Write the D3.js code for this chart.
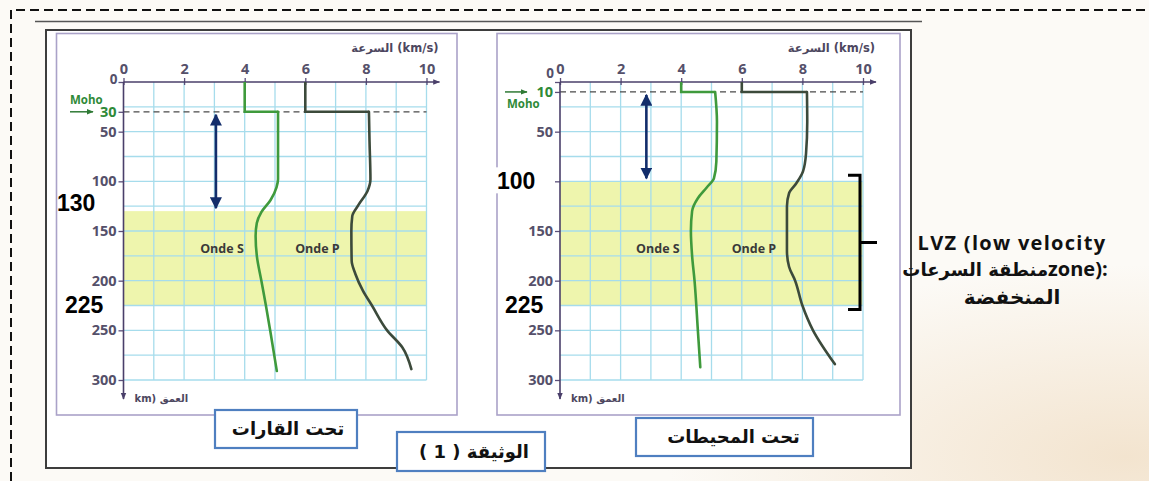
<!DOCTYPE html>
<html>
<head>
<meta charset="utf-8">
<script src="https://cdn.jsdelivr.net/npm/d3@7"></script>
<style>
  html, body { margin: 0; padding: 0; background: #fcfaf6; }
  svg { display: block; }
  .tick text { font-family: "Open Sans", sans-serif; font-weight: 700; font-size: 14.5px; fill: #55506a; }
  .tick line { stroke: #5b4f7a; stroke-width: 1.3; }
</style>
</head>
<body>
<svg id="chart" width="1149" height="481"></svg>
<script>
// Velocity axis (km/s) and depth axis (km)
const velocityTicks = [0, 2, 4, 6, 8, 10];
const depthTicksContinent = [0, 30, 50, 100, 150, 200, 250, 300];
const depthTicksOcean = [0, 10, 50, 100, 150, 200, 250, 300];

// Moho depth (km) under each domain
const mohoContinent = 30;
const mohoOcean = 10;

// Low-velocity zone limits (km)
const lvzContinent = [130, 225];
const lvzOcean = [100, 225];

// Seismic velocity profiles: [velocity km/s, depth km]
const sContinent = [[4, 0], [4, 30], [5.1, 30], [5.1, 60], [5.1, 98], [5.05, 106], [4.85, 119], [4.55, 131], [4.4, 142], [4.36, 155], [4.4, 175], [4.55, 200], [4.7, 225], [4.84, 250], [5.06, 291]];
const pContinent = [[6, 0], [6, 30], [8.1, 30], [8.12, 60], [8.15, 98], [8.05, 110], [7.75, 124], [7.55, 135], [7.52, 150], [7.53, 180], [7.65, 193], [7.9, 210], [8.2, 225], [8.7, 250], [9.2, 267], [9.5, 289]];
const sOcean = [[4, 0], [4, 10], [5.12, 10], [5.18, 40], [5.16, 80], [5.08, 97], [4.85, 106], [4.55, 117], [4.36, 130], [4.32, 150], [4.36, 175], [4.44, 200], [4.55, 250], [4.63, 287]];
const pOcean = [[6, 0], [6, 10], [8.15, 10], [8.16, 40], [8.12, 72], [8.02, 90], [7.8, 102], [7.56, 112], [7.49, 125], [7.49, 170], [7.56, 186], [7.76, 200], [8.0, 225], [8.35, 250], [9.07, 284]];

// Text
const axisVelocityTitle = "السرعة (km/s)";
const axisDepthTitle = "km) العمق";
const waveLabels = ["Onde S", "Onde P"];
const domainContinent = "تحت القارات";
const domainOcean = "تحت المحيطات";
const documentTitle = "الوثيقة ( 1 )";
const lvzLine1 = "LVZ (low velocity";
const lvzLine2Ar = "منطقة السرعات";
const lvzLine2En = "zone):";
const lvzLine3 = "المنخفضة";

const svg = d3.select("#chart");
const W = 1149, H = 481;

// ---- page background ----
const defs = svg.append("defs");
const paper = defs.append("radialGradient").attr("id", "paper")
  .attr("cx", "98%").attr("cy", "95%").attr("r", "40%");
paper.append("stop").attr("offset", "0%").attr("stop-color", "#f3e4cf");
paper.append("stop").attr("offset", "100%").attr("stop-color", "#fcfaf6");
svg.append("rect").attr("width", W).attr("height", H).attr("fill", "#fcfaf6");
svg.append("rect").attr("width", W).attr("height", H).attr("fill", "url(#paper)");

defs.append("marker").attr("id", "axArrow").attr("viewBox", "0 0 10 10")
  .attr("refX", 9).attr("refY", 5).attr("markerWidth", 7).attr("markerHeight", 7)
  .attr("markerUnits", "userSpaceOnUse").attr("orient", "auto")
  .append("path").attr("d", "M0,1 L10,5 L0,9 Z").attr("fill", "#4a3f6a");
defs.append("marker").attr("id", "greenArrow").attr("viewBox", "0 0 10 10")
  .attr("refX", 9).attr("refY", 5).attr("markerWidth", 7).attr("markerHeight", 7)
  .attr("markerUnits", "userSpaceOnUse").attr("orient", "auto")
  .append("path").attr("d", "M0,1 L10,5 L0,9 Z").attr("fill", "#2f7a35");
defs.append("marker").attr("id", "navyHead").attr("viewBox", "0 0 10 10")
  .attr("refX", 9).attr("refY", 5).attr("markerWidth", 12).attr("markerHeight", 12)
  .attr("markerUnits", "userSpaceOnUse").attr("orient", "auto-start-reverse")
  .append("path").attr("d", "M0,0 L10,5 L0,10 Z").attr("fill", "#132d6b");

// ---- outer dashed frame and document box ----
svg.append("path").attr("d", `M11,${H} L11,10 L${W},10`)
  .attr("fill", "none").attr("stroke", "#111").attr("stroke-width", 2)
  .attr("stroke-dasharray", "9,5");
svg.append("line").attr("x1", 35).attr("x2", 922).attr("y1", 21.5).attr("y2", 21.5)
  .attr("stroke", "#555").attr("stroke-width", 1.5);
svg.append("rect").attr("x", 46).attr("y", 30).attr("width", 865).attr("height", 438)
  .attr("fill", "#fff").attr("stroke", "#3d3d3d").attr("stroke-width", 2);

// ---- shared depth scale ----
const y = d3.scaleLinear().domain([0, 300]).range([82, 380]);

const curveLine = (x) => d3.line().x(d => x(d[0])).y(d => y(d[1])).curve(d3.curveMonotoneY);
const stepLine = (x) => d3.line().x(d => x(d[0])).y(d => y(d[1]));

function drawPanel(cfg) {
  const x = d3.scaleLinear().domain([0, 10]).range(cfg.xRange);
  const g = svg.append("g");

  // panel frame
  g.append("rect").attr("x", cfg.frame[0]).attr("y", cfg.frame[1])
    .attr("width", cfg.frame[2] - cfg.frame[0]).attr("height", cfg.frame[3] - cfg.frame[1])
    .attr("fill", "#fff").attr("stroke", "#aaa2c8").attr("stroke-width", 1.6);

  // low-velocity zone band
  g.append("rect").attr("x", x(0)).attr("y", y(cfg.lvz[0]))
    .attr("width", x(10) - x(0)).attr("height", y(cfg.lvz[1]) - y(cfg.lvz[0]))
    .attr("fill", "#eef5ad");

  // grid
  g.append("g").selectAll("line").data(d3.range(1, 11)).join("line")
    .attr("x1", d => x(d)).attr("x2", d => x(d)).attr("y1", y(0)).attr("y2", y(300))
    .attr("stroke", "#a6dcec").attr("stroke-width", 1.3);
  g.append("g").selectAll("line").data(d3.range(25, 301, 25)).join("line")
    .attr("x1", x(0)).attr("x2", x(10)).attr("y1", d => y(d)).attr("y2", d => y(d))
    .attr("stroke", "#a6dcec").attr("stroke-width", 1.3);

  // Moho dashed line
  g.append("line").attr("x1", x(0)).attr("x2", x(10))
    .attr("y1", y(cfg.moho)).attr("y2", y(cfg.moho))
    .attr("stroke", "#4a4a4a").attr("stroke-width", 1.3).attr("stroke-dasharray", "6,4");

  // axes
  const top = g.append("g").attr("transform", `translate(0,${y(0)})`)
    .call(d3.axisTop(x).tickValues(velocityTicks).tickSize(4).tickPadding(3));
  top.select(".domain").remove();
  top.selectAll(".tick line").attr("y2", 3).attr("y1", -4);
  top.selectAll(".tick text").attr("dy", "-0.05em");

  const left = g.append("g").attr("transform", `translate(${x(0)},0)`)
    .call(d3.axisLeft(y).tickValues(cfg.depthTicks).tickSize(5).tickPadding(2));
  left.select(".domain").remove();
  left.selectAll(".tick text").filter(d => d === cfg.moho).style("fill", "#2f8a38");
  left.selectAll(".tick text").filter(d => d === 0)
    .attr("dy", cfg.zeroDy).attr("x", -6).style("font-size", "13.5px");
  // the annotated LVZ top replaces its own tick label
  left.selectAll(".tick text").filter(d => d === cfg.lvz[0]).remove();

  g.append("line").attr("x1", x(0)).attr("x2", x(10) + 13).attr("y1", y(0)).attr("y2", y(0))
    .attr("stroke", "#4a3f6a").attr("stroke-width", 1.6).attr("marker-end", "url(#axArrow)");
  g.append("line").attr("x1", x(0)).attr("x2", x(0)).attr("y1", y(0)).attr("y2", y(300) + 19)
    .attr("stroke", "#4a3f6a").attr("stroke-width", 1.6).attr("marker-end", "url(#axArrow)");

  // axis titles
  g.append("text").attr("x", x(10) + 12).attr("y", 52).attr("text-anchor", "end")
    .attr("direction", "ltr")
    .style("font-family", "'DejaVu Sans', sans-serif").style("font-size", "11.5px")
    .style("font-weight", 700).style("fill", "#4d4760").text(axisVelocityTitle);
  g.append("text").attr("x", x(0) + 11).attr("y", y(300) + 22)
    .attr("direction", "ltr")
    .style("font-family", "'DejaVu Sans', sans-serif").style("font-size", "10px")
    .style("font-weight", 700).style("fill", "#4d4760").text(axisDepthTitle);

  // Moho label
  g.append("text").attr("x", cfg.mohoLabel[0]).attr("y", cfg.mohoLabel[1])
    .style("font-family", "'Open Sans', sans-serif").style("font-size", "11.5px")
    .style("font-weight", 700).style("fill", "#2f8a38").text("Moho");
  g.append("line").attr("x1", cfg.mohoArrow[0]).attr("x2", cfg.mohoArrow[1])
    .attr("y1", y(cfg.moho)).attr("y2", y(cfg.moho))
    .attr("stroke", "#2f7a35").attr("stroke-width", 1.5).attr("marker-end", "url(#greenArrow)");

  // velocity profiles: crust step, then mantle curve
  const drawWave = (pts, color) => {
    g.append("path").attr("d", stepLine(x)(pts.slice(0, 3)))
      .attr("fill", "none").attr("stroke", color).attr("stroke-width", 2.6);
    g.append("path").attr("d", curveLine(x)(pts.slice(2)))
      .attr("fill", "none").attr("stroke", color).attr("stroke-width", 2.6)
      .attr("stroke-linecap", "round");
  };
  drawWave(cfg.s, "#3f9a3c");
  drawWave(cfg.p, "#3c4a3b");

  // wave labels
  g.selectAll("text.wave").data(waveLabels).join("text").attr("class", "wave")
    .attr("x", (d, i) => x(cfg.waveLabelVel[i])).attr("y", y(168)).attr("dy", "0.35em")
    .attr("text-anchor", "middle")
    .style("font-family", "'Open Sans', sans-serif").style("font-size", "12.5px")
    .style("font-weight", 700).style("fill", "#3a3a3a").text(d => d);

  // double arrow from the Moho to the top of the LVZ
  g.append("line").attr("x1", x(cfg.arrowVel)).attr("x2", x(cfg.arrowVel))
    .attr("y1", y(cfg.moho) + 3).attr("y2", y(cfg.lvz[0]) - 3)
    .attr("stroke", "#132d6b").attr("stroke-width", 2.6)
    .attr("marker-start", "url(#navyHead)").attr("marker-end", "url(#navyHead)");

  // LVZ depth annotations
  const ann = (val, xPos, yOff, bg) => {
    if (bg) {
      g.append("rect").attr("x", xPos - 14).attr("y", y(val) + yOff - 13)
        .attr("width", 60).attr("height", 26).attr("fill", "#fff");
    }
    g.append("text").attr("x", xPos).attr("y", y(val) + yOff).attr("dy", "0.36em")
      .style("font-family", "'Liberation Sans', Arial, sans-serif").style("font-size", "23px")
      .style("font-weight", 700).style("fill", "#000").text(val);
  };
  ann(cfg.lvz[0], cfg.annX[0], cfg.annOff[0], cfg.annBg);
  ann(cfg.lvz[1], cfg.annX[1], cfg.annOff[1], false);

  return x;
}

drawPanel({
  xRange: [123.5, 426.5], frame: [56.5, 33.5, 457, 415],
  depthTicks: depthTicksContinent, moho: mohoContinent, lvz: lvzContinent,
  s: sContinent, p: pContinent, waveLabelVel: [3.25, 6.4], arrowVel: 3.05,
  mohoLabel: [70, 104], mohoArrow: [70, 93], zeroDy: "0.1em",
  annX: [57, 65], annOff: [-8, -1], annBg: false
});

drawPanel({
  xRange: [560, 863], frame: [497, 33.5, 900, 415],
  depthTicks: depthTicksOcean, moho: mohoOcean, lvz: lvzOcean,
  s: sOcean, p: pOcean, waveLabelVel: [3.23, 6.4], arrowVel: 2.85,
  mohoLabel: [507, 108], mohoArrow: [505, 527], zeroDy: "-0.3em",
  annX: [497, 505], annOff: [-1, -1], annBg: true
});

// bracket marking the LVZ under the oceans
const by0 = y(lvzOcean[0]) - 6, by1 = y(lvzOcean[1]) + 4;
const bx = 860;
svg.append("path")
  .attr("d", `M${bx - 12},${by0} L${bx},${by0} L${bx},${by1} L${bx - 12},${by1} M${bx},${(by0 + by1) / 2} L${bx + 17},${(by0 + by1) / 2}`)
  .attr("fill", "none").attr("stroke", "#000").attr("stroke-width", 3);

// LVZ caption
const lvz = svg.append("g").attr("direction", "ltr")
  .style("font-weight", 700).style("fill", "#111");
lvz.append("text").attr("x", 1012).attr("y", 243).attr("dy", "0.35em")
  .attr("text-anchor", "middle")
  .style("font-family", "'Open Sans', sans-serif").style("font-size", "20px")
  .style("letter-spacing", "1.3px").text(lvzLine1);
const l2 = lvz.append("text").attr("x", 1005).attr("y", 270).attr("dy", "0.35em")
  .attr("text-anchor", "middle");
l2.append("tspan").style("font-family", "'DejaVu Sans', sans-serif").style("font-size", "18px").text(lvzLine2Ar);
l2.append("tspan").style("font-family", "'Open Sans', sans-serif").style("font-size", "20px").text(lvzLine2En);
lvz.append("text").attr("x", 1012).attr("y", 297).attr("dy", "0.35em")
  .attr("text-anchor", "middle")
  .style("font-family", "'DejaVu Sans', sans-serif").style("font-size", "20px").text(lvzLine3);

// caption boxes
const captions = [
  { text: domainContinent, box: [215, 410, 357, 448], shift: 2 },
  { text: documentTitle, box: [397, 432, 545, 471], shift: 3 },
  { text: domainOcean, box: [636, 418, 813, 456], shift: 9 }
];
const cap = svg.append("g").selectAll("g").data(captions).join("g");
cap.append("rect")
  .attr("x", d => d.box[0]).attr("y", d => d.box[1])
  .attr("width", d => d.box[2] - d.box[0]).attr("height", d => d.box[3] - d.box[1])
  .attr("fill", "#fff").attr("stroke", "#4f7fc0").attr("stroke-width", 2.2);
cap.append("text")
  .attr("x", d => (d.box[0] + d.box[2]) / 2 + d.shift).attr("y", d => (d.box[1] + d.box[3]) / 2)
  .attr("dy", "0.35em").attr("text-anchor", "middle").attr("direction", "rtl")
  .style("font-family", "'DejaVu Sans', sans-serif").style("font-size", "18px")
  .style("font-weight", 700).style("fill", "#111").text(d => d.text);
</script>
</body>
</html>
